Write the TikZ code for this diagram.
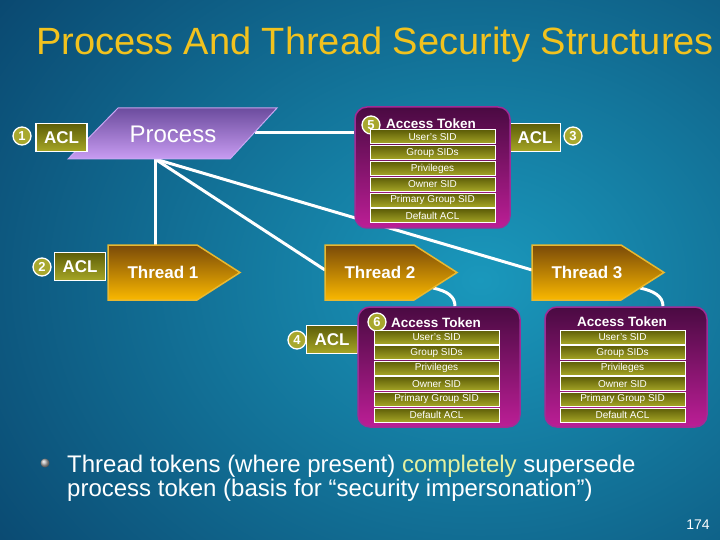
\documentclass[tikz,border=0pt]{standalone}
\usepackage{fontspec}
\setmainfont{Liberation Sans}
\usetikzlibrary{calc}
\definecolor{bgA}{HTML}{0A4870}
\definecolor{bgB}{HTML}{1A98BC}
\definecolor{titleY}{HTML}{F2C21E}
\definecolor{oliveT}{HTML}{5E5E08}
\definecolor{oliveB}{HTML}{A6A626}
\definecolor{numF}{HTML}{A8A82E}
\definecolor{tokT}{HTML}{4A0A42}
\definecolor{tokB}{HTML}{BC1E96}
\definecolor{tokD}{HTML}{A02C96}
\definecolor{thrT}{HTML}{7A4A08}
\definecolor{thrB}{HTML}{FAB800}
\definecolor{thrD}{HTML}{E8B830}
\definecolor{prT}{HTML}{6C4C9E}
\definecolor{prB}{HTML}{C89CF2}
\definecolor{prD}{HTML}{C8A8F4}
\definecolor{hl}{HTML}{E4F0A0}
\pgfdeclarelayer{bgl}
\pgfdeclarelayer{lnl}
\pgfsetlayers{bgl,lnl,main}
\tikzset{
  aclbox/.style={draw=white, line width=1.2pt, top color=oliveT, bottom color=oliveB, text=white,
    font=\bfseries\fontsize{17}{17}\selectfont, minimum width=51pt, minimum height=28pt, inner sep=0pt},
  numc/.style={circle, draw=white, line width=1.3pt, fill=numF, text=white,
    font=\bfseries\fontsize{13}{13}\selectfont, minimum size=18pt, inner sep=0pt},
  rowbox/.style={draw=white, line width=1pt, top color=oliveT, bottom color=oliveB, text=white,
    font=\fontsize{10}{10}\selectfont, minimum width=125pt, minimum height=14pt, inner sep=0pt},
  tokbox/.style={draw=tokD, line width=1.5pt, rounded corners=12pt, top color=tokT, bottom color=tokB, inner sep=0pt},
  thrshape/.style={draw=thrD, line width=1.5pt, top color=thrT, bottom color=thrB},
  thrtext/.style={text=white, font=\bfseries\fontsize{17}{17}\selectfont, inner sep=0pt},
  ttl/.style={text=white, font=\bfseries\fontsize{13.5}{13.5}\selectfont, inner sep=0pt},
  conn/.style={draw=white, line width=3pt},
}
\newcommand\threadshape[1]{%
  \fill[thrshape] (#1,245) -- (#1+89,245) -- (#1+132,272.5) -- (#1+89,300) -- (#1,300) -- cycle;}
\begin{document}
\begin{tikzpicture}[x=1pt,y=-1pt]
\useasboundingbox (0,0) rectangle (720,540);
\begin{pgfonlayer}{bgl}
  \fill[bgA] (0,0) rectangle (720,540);
  \begin{scope}
    \clip (0,0) rectangle (720,540);
    \shade[inner color=bgB, outer color=bgA] (-120,-200) rectangle (1080,760);
  \end{scope}
\end{pgfonlayer}

% title
\node[text=titleY, font=\fontsize{38}{38}\selectfont, anchor=base] (title) at (375,55) {Process And Thread Security Structures};

% process
\coordinate (p1) at (118,108);
\coordinate (p2) at (277,108);
\coordinate (p3) at (230,159);
\coordinate (p4) at (68,159);
\fill[top color=prT, bottom color=prB, draw=prD, line width=1pt] (p1) -- (p2) -- (p3) -- (p4) -- cycle;
\node[text=white, font=\fontsize{24}{24}\selectfont] (proc) at (173,134) {Process};
\coordinate (pr) at (255,133);
\coordinate (pb) at (155,159);

% ACLs and numbers
\node[aclbox] (acl1) at (61.5,137.5) {ACL};
\node[numc] (n1) at (22,136) {1};
\node[aclbox] (acl2) at (80,266.5) {ACL};
\node[numc] (n2) at (42,267) {2};
\node[aclbox] (acl3) at (535,137.5) {ACL};
\node[numc] (n3) at (573,136) {3};
\node[aclbox] (acl4) at (332,339.5) {ACL};
\node[numc] (n4) at (297,340) {4};

% threads
\threadshape{108}
\threadshape{325}
\threadshape{532}
\coordinate (th1top) at (155,245);
\coordinate (th2w) at (325,270);
\coordinate (th3w) at (532,270);
\coordinate (th2a) at (433,288);
\coordinate (th3a) at (640,288);
\node[thrtext] (th1) at (163,272.5) {Thread 1};
\node[thrtext] (th2) at (380,272.5) {Thread 2};
\node[thrtext] (th3) at (587,272.5) {Thread 3};

% tokens
\node[tokbox, minimum width=155pt, minimum height=121pt] (tok5) at (432.5,167.5) {};
\node[ttl] (t5) at (431,124) {Access Token};
\node[numc] (n5) at (371,125) {5};
\node[tokbox, minimum width=162pt, minimum height=120pt] (tok6) at (439,367) {};
\node[ttl] (t6) at (436,323) {Access Token};
\node[numc] (n6) at (377,322) {6};
\node[tokbox, minimum width=162pt, minimum height=120pt] (tok7) at (626,367) {};
\node[ttl] (t7) at (622,322) {Access Token};

\foreach \lab [count=\i from 0] in {User's SID, Group SIDs, Privileges, Owner SID, Primary Group SID, Default ACL}{
  \node[rowbox] (r5-\i) at (432.5,137+15.8*\i) {\lab};
  \node[rowbox] (r6-\i) at (436.5,337+15.6*\i) {\lab};
  \node[rowbox] (r7-\i) at (622.5,337+15.6*\i) {\lab};
}

% connectors
\begin{pgfonlayer}{lnl}
  \draw[conn] (pr) -- (pr -| tok5.west);
  \draw[conn] (pb) -- (th1top);
  \draw[conn] (pb) -- (th2w);
  \draw[conn] (pb) -- (th3w);
  \draw[conn] (th2a) .. controls +(14,3) and +(0,-10) .. ($(tok6.north)+(16,0)$);
  \draw[conn] (th3a) .. controls +(14,3) and +(0,-10) .. ($(tok7.north)+(37,0)$);
\end{pgfonlayer}

% bullet text
\shade[ball color=gray!60!white] (45,463) circle[radius=4.5pt];
\node[text=white, font=\fontsize{24}{24}\selectfont, anchor=base west, inner sep=0pt] (b1) at (67,472) {Thread tokens (where present) \textcolor{hl}{completely} supersede};
\node[text=white, font=\fontsize{24}{24}\selectfont, anchor=base west, inner sep=0pt] (b2) at (67,496) {process token (basis for “security impersonation”)};

\node[text=white, font=\fontsize{14}{14}\selectfont, anchor=base] (pg) at (698,529) {174};
\end{tikzpicture}
\end{document}
